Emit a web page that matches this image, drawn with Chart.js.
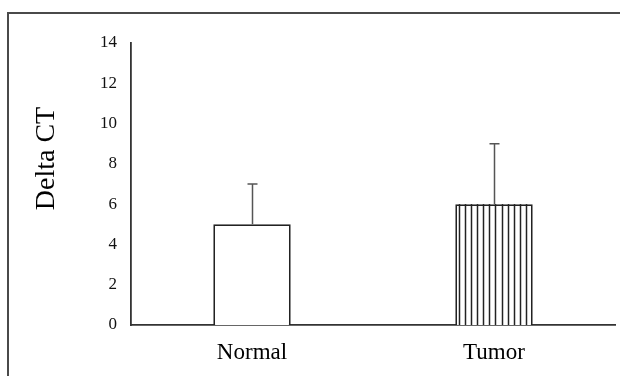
<!DOCTYPE html>
<html>
<head>
<meta charset="utf-8">
<script src="https://cdn.jsdelivr.net/npm/chart.js@4/dist/chart.umd.min.js"></script>
<style>
  html, body { margin: 0; padding: 0; background: #ffffff; overflow: hidden; }
  #wrap { position: relative; width: 620px; height: 376px; }
  #frame { position: absolute; left: 7px; top: 12px; width: 700px; height: 500px;
           border-left: 2px solid #4a4a4a; border-top: 2px solid #4a4a4a; box-sizing: border-box; }
  canvas { position: absolute; left: 0; top: 0; }
</style>
</head>
<body>
<div id="wrap">
  <div id="frame"></div>
  <canvas id="c" width="620" height="376"></canvas>
</div>
<script>
const categories = ['Normal', 'Tumor'];
const meanValues = [5, 6];
const errorValues = [2, 3];
const yTickValues = [0, 2, 4, 6, 8, 10, 12, 14];
const yAxisTitle = 'Delta CT';

const SERIF = "'Liberation Serif', 'Times New Roman', serif";

const decorPlugin = {
  id: 'decor',
  afterDatasetsDraw(chart) {
    const ctx = chart.ctx;
    const meta = chart.getDatasetMeta(0);
    const yScale = chart.scales.y;
    ctx.save();
    meta.data.forEach((bar, i) => {
      const p = bar.getProps(['x', 'y', 'base', 'width'], true);
      const left = p.x - p.width / 2;
      // vertical stripes for Tumor
      if (i === 1) {
        ctx.strokeStyle = '#222';
        ctx.lineWidth = 1.5;
        const step = p.width / 12.6;
        for (let k = 0; k < 12; k++) {
          const xx = Math.round(left + 3.3 + k * step) + 0.5;
          ctx.beginPath();
          ctx.moveTo(xx, p.y);
          ctx.lineTo(xx, p.base);
          ctx.stroke();
        }
      }
      // upper error bar
      const yTop = yScale.getPixelForValue(meanValues[i] + errorValues[i]);
      const cx = Math.round(p.x) + 0.5;
      ctx.strokeStyle = '#555';
      ctx.lineWidth = 1.5;
      ctx.beginPath();
      ctx.moveTo(cx, p.y);
      ctx.lineTo(cx, yTop);
      ctx.moveTo(cx - 5, yTop);
      ctx.lineTo(cx + 5, yTop);
      ctx.stroke();
    });
    // axis title
    ctx.translate(46.5, 158.5);
    ctx.rotate(-Math.PI / 2);
    ctx.fillStyle = '#000';
    ctx.font = '28px ' + SERIF;
    ctx.textAlign = 'center';
    ctx.textBaseline = 'middle';
    ctx.fillText(yAxisTitle, 0, 0);
    ctx.restore();
  }
};

new Chart(document.getElementById('c'), {
  type: 'bar',
  data: {
    labels: categories,
    datasets: [{
      data: meanValues,
      backgroundColor: '#ffffff',
      borderColor: '#222222',
      borderWidth: 1.8,
      borderSkipped: 'bottom',
      categoryPercentage: 1,
      barPercentage: 0.32
    }]
  },
  options: {
    responsive: false,
    animation: false,
    devicePixelRatio: 1,
    layout: { padding: { left: 0, right: 5, top: 43, bottom: 0 } },
    plugins: { legend: { display: false }, tooltip: { enabled: false }, title: { display: false } },
    scales: {
      x: {
        grid: { display: false, drawTicks: false },
        border: { display: true, color: '#333', width: 1.8 },
        ticks: { color: '#000', font: { family: SERIF, size: 23 }, padding: 14 },
        afterFit(s) { s.height = 51; }
      },
      y: {
        min: 0, max: 14,
        afterBuildTicks(s) { s.ticks = yTickValues.map(v => ({ value: v })); },
        grid: { display: false, drawTicks: false },
        border: { display: true, color: '#333', width: 1.8 },
        ticks: { color: '#111', font: { family: SERIF, size: 17 }, padding: 14 },
        afterFit(s) { s.width = 131; }
      }
    }
  },
  plugins: [decorPlugin]
});
</script>
</body>
</html>
